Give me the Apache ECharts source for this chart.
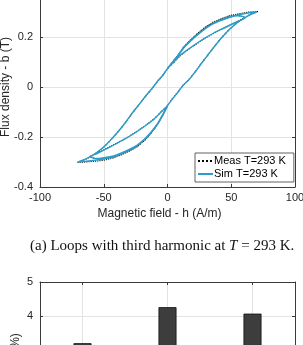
<!DOCTYPE html>
<html>
<head>
<meta charset="utf-8">
<script src="https://cdn.jsdelivr.net/npm/echarts@6/dist/echarts.min.js"></script>
<style>
html,body{margin:0;padding:0;background:#fff;}
#c{width:303px;height:345px;}
</style>
</head>
<body>
<div id="c"></div>
<script>
// ---- Data ----
// Simulated loop, traced in time order: h (A/m), b (T)
const simH = [70,64,57,49,43,36,30,23,18,13,8,4,0,
  5,10,16,23,30,36,43,49,55,61,
  55,49,43,36,30,23,18,13,8,4,0,
  -4,-8,-12,-17,-22,-27,-32,-37,-43,-49,-55,-61,-66,-70,
  -64,-57,-50,-43,-37,-30,-24,-18,-13,-8,-4,0,
  -5,-10,-16,-23,-30,-36,-43,-49,-55,-61,
  -55,-50,-43,-37,-30,-24,-18,-13,-8,-4,0,
  4,8,12,17,22,27,32,37,43,49,55,61,66,70];
const simB = [0.300,0.297,0.290,0.281,0.270,0.255,0.236,0.208,0.185,0.160,0.125,0.100,0.075,
  0.100,0.127,0.150,0.175,0.198,0.215,0.233,0.248,0.262,0.277,
  0.285,0.279,0.268,0.253,0.234,0.206,0.183,0.158,0.123,0.098,0.074,
  0.045,0.022,-0.005,-0.035,-0.068,-0.100,-0.135,-0.168,-0.203,-0.235,-0.260,-0.279,-0.292,-0.300,
  -0.297,-0.293,-0.288,-0.280,-0.268,-0.252,-0.235,-0.210,-0.183,-0.150,-0.115,-0.076,
  -0.100,-0.126,-0.150,-0.175,-0.198,-0.215,-0.234,-0.250,-0.265,-0.279,
  -0.286,-0.283,-0.277,-0.266,-0.250,-0.233,-0.208,-0.181,-0.148,-0.113,-0.075,
  -0.047,-0.022,0.005,0.030,0.062,0.097,0.130,0.163,0.200,0.232,0.258,0.278,0.292,0.300];
// Measured loop, traced in time order
const measH = [71,64,57,49,43,36,30,23,18,13,8,4,0,
  5,10,16,23,30,36,43,49,55,61,
  55,49,43,36,30,23,18,13,8,4,0,
  -4,-8,-12,-17,-22,-27,-32,-37,-43,-49,-55,-61,-66,-71,
  -64,-57,-50,-43,-37,-30,-24,-18,-13,-8,-4,0,
  -5,-10,-16,-23,-30,-36,-43,-49,-55,-61,
  -55,-50,-43,-37,-30,-24,-18,-13,-8,-4,0,
  4,8,12,17,22,27,32,37,43,49,55,61,66,71];
const measB = [0.302,0.300,0.294,0.286,0.275,0.260,0.241,0.212,0.188,0.162,0.126,0.100,0.074,
  0.099,0.125,0.149,0.173,0.197,0.214,0.232,0.247,0.262,0.278,
  0.288,0.283,0.272,0.257,0.238,0.210,0.186,0.160,0.124,0.099,0.073,
  0.044,0.021,-0.006,-0.036,-0.069,-0.101,-0.136,-0.169,-0.204,-0.236,-0.262,-0.281,-0.293,-0.302,
  -0.300,-0.297,-0.293,-0.285,-0.273,-0.257,-0.240,-0.214,-0.186,-0.152,-0.116,-0.075,
  -0.099,-0.125,-0.149,-0.174,-0.197,-0.214,-0.233,-0.249,-0.264,-0.279,
  -0.289,-0.287,-0.281,-0.270,-0.254,-0.237,-0.212,-0.184,-0.150,-0.114,-0.074,
  -0.046,-0.021,0.006,0.031,0.063,0.098,0.131,0.164,0.201,0.233,0.259,0.279,0.293,0.302];

// Bar chart (b)
const barCategories = ['Case 1','Case 2','Case 3'];
const barValues = [3.2, 4.26, 4.07];

const hTicks = {min:-100, max:100, interval:50};
const bTicks = {min:-0.4, max:0.4, interval:0.2};
const errTicks = {min:0, max:5, interval:1};

const simName = 'Sim T=293 K';
const measName = 'Meas T=293 K';
const caption = '(a) Loops with third harmonic at {i|T} = 293 K.';

// ---- Build ----
const pairs = (xs, ys) => xs.map((x, i) => [x, ys[i]]);
const AX = '#3a3a3a', TXT = '#262626', GRID = '#e3e3e3';
const FONT = 'Liberation Sans';

const boxAxis = (extra) => Object.assign({
  axisLine:{show:true, onZero:false, lineStyle:{color:AX, width:1}},
  axisTick:{show:true, inside:true, length:3, lineStyle:{color:AX}},
  axisLabel:{show:false},
  splitLine:{show:false}
}, extra);

const chart = echarts.init(document.getElementById('c'), null, {renderer:'canvas'});
chart.setOption({
  animation:false,
  backgroundColor:'#fff',
  textStyle:{fontFamily:FONT},
  title:{
    text:caption, left:25, top:234,
    textStyle:{fontFamily:'Liberation Serif', fontSize:15, fontWeight:'normal', color:'#111',
      rich:{i:{fontFamily:'Liberation Serif', fontSize:15, fontStyle:'italic', color:'#111'}}}
  },
  legend:{
    orient:'vertical', left:195, top:153,
    itemWidth:15, itemHeight:4, itemGap:1,
    padding:[2,8,2,2],
    backgroundColor:'#fff', borderColor:AX, borderWidth:0.8, borderRadius:0,
    itemStyle:{opacity:0},
    textStyle:{fontFamily:FONT, fontSize:11, color:'#000', lineHeight:12, padding:[0,0,0,-4]},
    data:[measName, simName]
  },
  grid:[
    {left:40, right:8, top:-13, height:200, containLabel:false, outerBoundsMode:'none'},
    {left:40, right:8, top:282, height:170, containLabel:false, outerBoundsMode:'none'}
  ],
  xAxis:[
    {gridIndex:0, type:'value', position:'bottom', min:hTicks.min, max:hTicks.max, interval:hTicks.interval,
     name:'Magnetic field - h (A/m)', nameLocation:'middle', nameGap:21, nameMoveOverlap:false,
     nameTextStyle:{fontSize:12, color:TXT, fontFamily:FONT, padding:[0,16,0,0]},
     axisLine:{show:true, onZero:false, lineStyle:{color:AX}},
     axisTick:{show:true, inside:true, length:3, lineStyle:{color:AX}},
     axisLabel:{fontSize:11, color:TXT, margin:5, fontFamily:FONT},
     splitLine:{show:true, lineStyle:{color:GRID, width:1}}},
    boxAxis({gridIndex:0, type:'value', position:'top', min:hTicks.min, max:hTicks.max, interval:hTicks.interval}),
    {gridIndex:1, type:'category', position:'bottom', data:barCategories,
     axisLine:{show:true, onZero:false, lineStyle:{color:AX}},
     axisTick:{show:true, inside:true, length:3, alignWithLabel:true, lineStyle:{color:AX}},
     axisLabel:{fontSize:11, color:TXT, margin:5},
     splitLine:{show:true, alignWithLabel:true, lineStyle:{color:GRID}}},
    boxAxis({gridIndex:1, type:'category', position:'top', data:barCategories,
     axisTick:{show:true, inside:true, length:3, alignWithLabel:true, lineStyle:{color:AX}}})
  ],
  yAxis:[
    {gridIndex:0, type:'value', position:'left', min:bTicks.min, max:bTicks.max, interval:bTicks.interval,
     name:'Flux density - b (T)', nameLocation:'middle', nameGap:28, nameMoveOverlap:false,
     nameTextStyle:{fontSize:12, color:TXT, fontFamily:FONT},
     axisLine:{show:true, onZero:false, lineStyle:{color:AX}},
     axisTick:{show:true, inside:true, length:3, lineStyle:{color:AX}},
     axisLabel:{fontSize:11, color:TXT, margin:7, fontFamily:FONT},
     splitLine:{show:true, lineStyle:{color:GRID, width:1}}},
    boxAxis({gridIndex:0, type:'value', position:'right', min:bTicks.min, max:bTicks.max, interval:bTicks.interval}),
    {gridIndex:1, type:'value', position:'left', min:errTicks.min, max:errTicks.max, interval:errTicks.interval,
     name:'Error (%)', nameLocation:'middle', nameGap:18, nameMoveOverlap:false,
     nameTextStyle:{fontSize:12, color:TXT, fontFamily:FONT, padding:[0,0,0,19]},
     axisLine:{show:true, onZero:false, lineStyle:{color:AX}},
     axisTick:{show:true, inside:true, length:3, lineStyle:{color:AX}},
     axisLabel:{fontSize:11, color:TXT, margin:7, fontFamily:FONT},
     splitLine:{show:true, lineStyle:{color:GRID, width:1}}},
    boxAxis({gridIndex:1, type:'value', position:'right', min:errTicks.min, max:errTicks.max, interval:errTicks.interval})
  ],
  series:[
    {name:measName, type:'line', xAxisIndex:0, yAxisIndex:0, data:pairs(measH, measB),
     showSymbol:false, symbol:'none', smooth:false, z:3,
     lineStyle:{color:'#000', width:1.1, type:'dotted'}, itemStyle:{color:'#000'}},
    {name:simName, type:'line', xAxisIndex:0, yAxisIndex:0, data:pairs(simH, simB),
     showSymbol:false, symbol:'none', smooth:0.3, z:4,
     lineStyle:{color:'#2a9dca', width:1.4}, itemStyle:{color:'#2a9dca'}},
    {name:'Error', type:'bar', xAxisIndex:2, yAxisIndex:2, data:barValues, barWidth:18,
     itemStyle:{color:'#3d3d3d', borderColor:'#111', borderWidth:0.8}}
  ]
});
</script>
</body>
</html>
